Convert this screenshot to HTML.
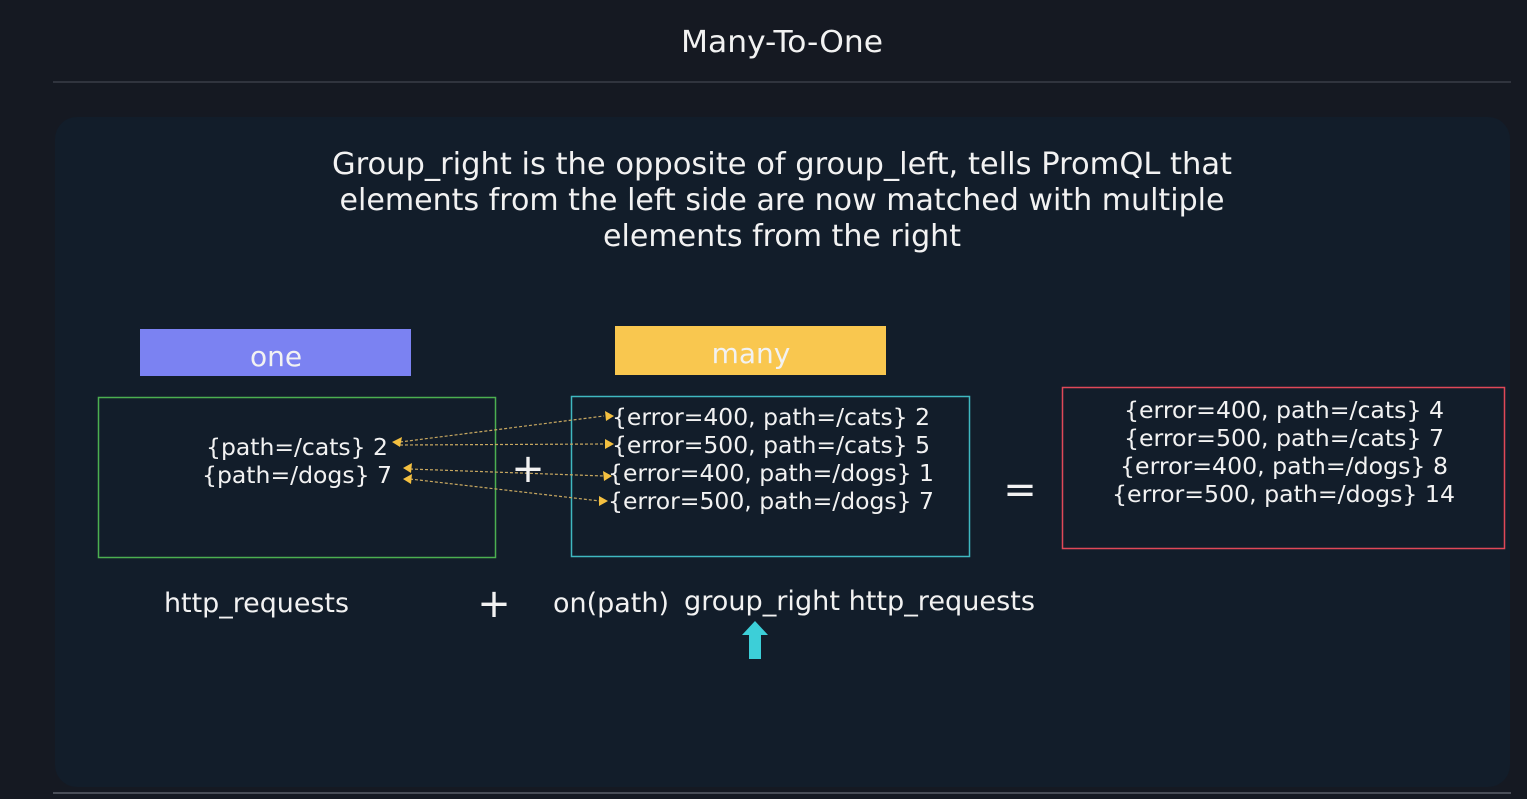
<!DOCTYPE html>
<html><head><meta charset="utf-8"><style>
html,body{margin:0;padding:0;background:#151922;}
svg{display:block}
text{font-family:"DejaVu Sans","Liberation Sans",sans-serif;fill:#f2f2f2}
</style></head><body>
<svg width="1527" height="799" viewBox="0 0 1527 799" xmlns="http://www.w3.org/2000/svg">
<rect x="0" y="0" width="1527" height="799" fill="#151922"/>
<text x="782" y="52" font-size="30" text-anchor="middle" fill="#d0d0d6" textLength="202" lengthAdjust="spacingAndGlyphs">Many-To-One</text>
<line x1="53" y1="82" x2="1511" y2="82" stroke="#3a3e48" stroke-width="1.5"/>
<rect x="55" y="117" width="1455" height="670" rx="22" fill="#121d2a"/>
<line x1="53" y1="793" x2="1511" y2="793" stroke="#4a4e58" stroke-width="2"/>
<text x="782" y="174" font-size="30" text-anchor="middle" textLength="900" lengthAdjust="spacingAndGlyphs">Group_right is the opposite of group_left, tells PromQL that</text>
<text x="782" y="210" font-size="30" text-anchor="middle" textLength="885" lengthAdjust="spacingAndGlyphs">elements from the left side are now matched with multiple</text>
<text x="782" y="246" font-size="30" text-anchor="middle" textLength="358" lengthAdjust="spacingAndGlyphs">elements from the right</text>
<rect x="140" y="329" width="271" height="47" fill="#7b82f2"/>
<text x="276" y="366" font-size="28" text-anchor="middle" fill="#ffffff">one</text>
<rect x="615" y="326" width="271" height="49" fill="#f9c74f"/>
<text x="751" y="363" font-size="28" text-anchor="middle" fill="#ffffff">many</text>
<rect x="98.5" y="397.5" width="397" height="160" fill="none" stroke="#4caf50" stroke-width="1.5"/>
<rect x="571.5" y="396.5" width="398" height="160" fill="none" stroke="#3fb8c0" stroke-width="1.5"/>
<rect x="1062.5" y="387.5" width="442" height="161" fill="none" stroke="#e04858" stroke-width="1.5"/>
<g font-size="23.5">
<text x="206" y="455" textLength="182" lengthAdjust="spacingAndGlyphs">{path=/cats} 2</text>
<text x="202" y="483" textLength="190" lengthAdjust="spacingAndGlyphs">{path=/dogs} 7</text>
<text x="612" y="425" textLength="318" lengthAdjust="spacingAndGlyphs">{error=400, path=/cats} 2</text>
<text x="612" y="453" textLength="318" lengthAdjust="spacingAndGlyphs">{error=500, path=/cats} 5</text>
<text x="608" y="481" textLength="326" lengthAdjust="spacingAndGlyphs">{error=400, path=/dogs} 1</text>
<text x="608" y="509" textLength="326" lengthAdjust="spacingAndGlyphs">{error=500, path=/dogs} 7</text>
<text x="1124" y="418" textLength="320" lengthAdjust="spacingAndGlyphs">{error=400, path=/cats} 4</text>
<text x="1124" y="446" textLength="320" lengthAdjust="spacingAndGlyphs">{error=500, path=/cats} 7</text>
<text x="1120" y="474" textLength="328" lengthAdjust="spacingAndGlyphs">{error=400, path=/dogs} 8</text>
<text x="1112" y="502" textLength="343" lengthAdjust="spacingAndGlyphs">{error=500, path=/dogs} 14</text>
</g>
<g stroke="#c8a860" stroke-width="1.2" stroke-dasharray="3,2" fill="none">
<line x1="400" y1="442" x2="604" y2="416"/>
<line x1="400" y1="445" x2="604" y2="444"/>
<line x1="410" y1="469" x2="604" y2="476"/>
<line x1="410" y1="479" x2="600" y2="501"/>
</g>
<g fill="#f4c040">
<polygon points="392,442 402,437 400,447"/>
<polygon points="403,468 412,463 411,473"/>
<polygon points="403,479 412,474 411,484"/>
<polygon points="614,416 605,411 606,421"/>
<polygon points="614,444 605,439 605,449"/>
<polygon points="612,476 603,471 604,481"/>
<polygon points="608,501 599,496 599,506"/>
</g>
<text x="528" y="482" font-size="40" text-anchor="middle">+</text>
<text x="1020" y="503" font-size="40" text-anchor="middle">=</text>
<g font-size="27">
<text x="164" y="612" textLength="185" lengthAdjust="spacingAndGlyphs">http_requests</text>
<text x="494" y="617" font-size="40" text-anchor="middle">+</text>
<text x="553" y="612" textLength="116" lengthAdjust="spacingAndGlyphs">on(path)</text>
<text x="684" y="610" textLength="351" lengthAdjust="spacingAndGlyphs">group_right http_requests</text>
</g>
<polygon points="755,621 768,635 761,635 761,659 749,659 749,635 742,635" fill="#3ccfd8"/>
</svg>
</body></html>
